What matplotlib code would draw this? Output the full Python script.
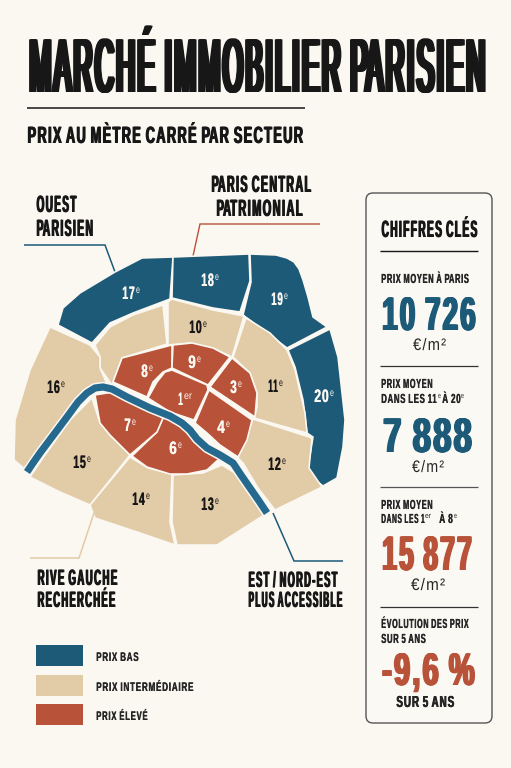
import numpy as np
import matplotlib
matplotlib.use("Agg")
import matplotlib.pyplot as plt
from matplotlib.patches import Polygon, Rectangle, FancyBboxPatch
from matplotlib.path import Path
from matplotlib.patheffects import AbstractPathEffect
from matplotlib.text import Text
from matplotlib.transforms import Bbox, IdentityTransform

# ---------- data ----------
TITLE = "MARCHÉ IMMOBILIER PARISIEN"
SUBTITLE = "PRIX AU MÈTRE CARRÉ PAR SECTEUR"
LEGEND_LABELS = ["PRIX BAS", "PRIX INTERMÉDIAIRE", "PRIX ÉLEVÉ"]
PRICE_PARIS = "10 726"
PRICE_EAST = "7 888"
PRICE_CENTRE = "15 877"
PRICE_CHANGE = "-9,6 %"
UNIT = "€/m²"

BG, BLUE, TAN, RED = "#fbf8f2", "#1d5a78", "#e2cba7", "#b85239"
RIVER = "#256a8e"
INK = "#171717"
SMALL = "#252525"
PALETTE = {"bas": BLUE, "mid": TAN, "haut": RED}

LOW = ["17", "18", "19", "20"]
MID = ["10", "11", "12", "13", "14", "15", "16", "ouest"]
HIGH = ["1", "3", "4", "6", "7", "8", "9"]

# map outline of each arrondissement
SHAPES = {
    "17": [(58,325),(63,308),(80,293),(115,272),(142,258),(173,257),(170,299),(133,313),(110,323),(92,343)],
    "18": [(173,257),(249,254),(250,281),(240,312),(213,308),(172,298)],
    "19": [(250,254),(276,255),(287,258),(294,262),(299,269),(303,280),(308,297),(313,317),(327,327),(287,348),(270,335),(243,315),(251,282)],
    "20": [(330,329),(338,357),(345,420),(343,447),(337,478),(323,486),(309,475),(308,468),(313,437),(307,433),(303,400),(295,367),(288,350)],
    "10": [(168,302),(172,299),(213,310),(244,316),(232,357),(213,348),(190,343),(168,345)],
    "ouest": [(95,345),(110,327),(133,315),(163,305),(167,344),(122,358),(112,385),(100,368),(100,357)],
    "11": [(246,318),(270,333),(287,350),(295,370),(305,413),(307,433),(254,418),(257,407),(257,393),(250,373),(233,357)],
    "12": [(238,458),(253,419),(312,438),(309,468),(322,487),(275,510),(258,488),(243,463)],
    "13": [(173,475),(203,473),(222,465),(238,475),(264,515),(217,545),(177,545),(172,522)],
    "14": [(130,457),(148,468),(172,474),(170,522),(175,545),(140,533),(95,518),(90,505)],
    "15": [(30,477),(45,455),(70,420),(92,398),(100,423),(110,435),(130,455),(90,505),(60,492)],
    "16": [(50,327),(90,345),(100,357),(100,368),(107,384),(90,388),(67,413),(40,448),(26,470),(14,460),(15,420),(30,370)],
    "8": [(122,358),(172,345),(172,368),(163,372),(153,382),(147,397),(113,382)],
    "9": [(173,345),(192,343),(213,348),(230,357),(208,385),(172,368)],
    "3": [(232,358),(250,373),(257,393),(255,417),(210,387)],
    "1": [(172,370),(207,385),(208,390),(194,420),(170,412),(148,398),(157,382),(165,372)],
    "4": [(209,390),(252,420),(247,440),(238,457),(220,445),(207,433),(195,423)],
    "6": [(170,418),(187,428),(203,448),(220,458),(207,470),(187,474),(170,474),(147,467),(132,456),(157,432),(163,418)],
    "7": [(95,395),(113,392),(163,418),(157,432),(130,455),(110,435),(100,423)],
}
SEINE = [(27,472),(33,463),(40,453),(52,437),(67,417),(78,402),(87,393),(95,388),(103,387),(112,389),
         (127,397),(150,408),(170,416),(182,423),(190,430),(197,439),(207,448),(220,455),(233,463),
         (241,475),(250,488),(259,501),(267,513)]

# number label: text, left, baseline, width, colour
DISTRICT_LABELS = [
    ("17",122,299,13,BG),("18",201,286,13,BG),("19",271,305,12,BG),("20",314,402,15,BG),
    ("10",189,333,13,INK),("11",268,392,10,INK),("12",268,470,13,INK),("13",201,510,13,INK),
    ("14",132,505,13,INK),("15",73,468,13,INK),("16",47,393,13,INK),
    ("8",141,377,7,BG),("9",188,368,8,BG),("3",230,393,7,BG),("4",217,433,8,BG),
    ("6",169,454,8,BG),("7",124,431,7,BG),
]

# ---------- condensed text helpers ----------
CAP = 0.72
BASE_FONT = "Liberation Sans"


class Squeeze(AbstractPathEffect):
    """Draw text glyphs condensed about x0, with tracking and extra stem weight."""

    def __init__(self, x0, sx, bold, track):
        self.x0, self.sx, self.bold, self.track = x0, sx, bold, track

    def draw_path(self, renderer, gc, tpath, affine, rgbFace=None):
        p = affine.transform_path(tpath)
        v, c = p.vertices.copy(), p.codes
        starts = np.flatnonzero(c == Path.MOVETO)
        ends = np.append(starts[1:], len(c))
        spans = []
        for s, e in zip(starts, ends):
            xs = v[s:e][c[s:e] != Path.CLOSEPOLY, 0]
            spans.append((xs.min(), xs.max(), s, e))
        spans.sort()
        idx, right = -1, -np.inf
        for xmin, xmax, s, e in spans:
            if xmin > right:
                idx += 1
            right = max(right, xmax)
            v[s:e, 0] = self.x0 + (v[s:e, 0] - self.x0) * self.sx + idx * self.track
        n = int(np.ceil(self.bold / 0.7))
        offs = np.linspace(0, self.bold, n + 1) if n else [0.0]
        for dx in offs:
            w = v.copy()
            w[:, 0] += dx
            renderer.draw_path(gc, Path(w, c), IdentityTransform(), rgbFace)


class CondensedText(Text):
    """Text whose layout reports the condensed width it is really drawn at,
    and no descender room, as these capitals and figures have none."""
    drawn_width = None

    def _get_layout(self, renderer):
        bbox, info, descent = super()._get_layout(renderer)
        if self.drawn_width is not None:
            bbox = Bbox.from_bounds(bbox.x0, bbox.y0 + descent, self.drawn_width, bbox.height - descent)
        return bbox, info, descent


fig = plt.figure(figsize=(5.11, 7.68), dpi=100, facecolor=BG)
ax = fig.add_axes([0, 0, 1, 1])
ax.set_xlim(0, 511)
ax.set_ylim(768, 0)
ax.axis("off")
rend = fig.canvas.get_renderer()


def label(x, y, s, cap, width, color=INK, bold=0.0, weight="bold", track=0.0):
    size = cap / CAP * 72 / 100
    t = CondensedText(x, y, s, color=color, fontsize=size, fontweight=weight,
                      family=BASE_FONT, ha="left", va="baseline", zorder=10)
    ax.add_artist(t)
    x0 = ax.transData.transform((x, y))[0]
    natural = t.get_window_extent(rend).width
    gaps = max(len(s.replace(" ", "")) - 1, 0)
    sx = max(width - bold - track * gaps, 1) / natural
    t.drawn_width = width
    t.set_path_effects([Squeeze(x0, sx, bold, track)])
    return t


def line(xs, ys, color, lw=1.0, z=1):
    ax.plot(xs, ys, color=color, lw=lw, solid_capstyle="butt", solid_joinstyle="miter", zorder=z)


# ---------- header ----------
label(27, 92, TITLE, 55, 463, bold=5.2, track=2.6, weight="normal")
line([27, 305], [108, 108], INK, 1.1)
label(27, 143, SUBTITLE, 17, 278, bold=1.2, track=1.4)

# ---------- map ----------
for key, pts in SHAPES.items():
    tier = "bas" if key in LOW else "mid" if key in MID else "haut"
    ax.add_patch(Polygon(pts, closed=True, facecolor=PALETTE[tier], edgecolor=BG, lw=1.15,
                         joinstyle="round", zorder=3))
sx_, sy_ = zip(*SEINE)
ax.plot(sx_, sy_, color=BG, lw=7.4, solid_capstyle="butt", solid_joinstyle="round", zorder=4)
ax.plot(sx_, sy_, color=RIVER, lw=5.2, solid_capstyle="butt", solid_joinstyle="round", zorder=5)

for s, x, y, w, c in DISTRICT_LABELS:
    label(x, y, s, 13, w, color=c, bold=0.5, track=0.8)
    label(x + w + 1, y - 6, "e", 7.5, 4, color=c, weight="normal")
label(178, 405, "1", 13, 5, color=BG, bold=0.5)
label(184, 399, "er", 7.5, 8, color=BG, weight="normal")

# ---------- leaders and callouts ----------
line([24, 105, 115], [245, 245, 272], BLUE, 1.1)
line([320, 200, 193], [224, 224, 256], RED, 1.0)
line([30, 79, 95], [558, 558, 510], TAN, 1.1, z=4)
line([273, 294, 343], [513, 561, 561], BLUE, 1.1)

for x, y, s, cap, w in [(36, 212, "OUEST", 17, 41), (36, 236, "PARISIEN", 17, 59),
                        (211, 192, "PARIS CENTRAL", 17, 102), (216, 216, "PATRIMONIAL", 17, 90),
                        (37, 585, "RIVE GAUCHE", 16, 81), (37, 607, "RECHERCHÉE", 16, 79),
                        (248, 587, "EST / NORD-EST", 16, 90), (248, 607, "PLUS ACCESSIBLE", 16, 95)]:
    label(x, y, s, cap, w, bold=1.2, track=1.4)

# ---------- legend ----------
for col, y0 in zip([BLUE, TAN, RED], [645, 675, 704]):
    ax.add_patch(Rectangle((36, y0), 47, 21, facecolor=col, edgecolor="none", zorder=3))
for lab, base, w in zip(LEGEND_LABELS, [661, 691, 720], [43, 98, 52]):
    label(96, base, lab, 9, w, color=SMALL, bold=0.5, track=0.8)

# ---------- key figures panel ----------
ax.add_patch(FancyBboxPatch((366, 193), 126, 530, boxstyle="round,pad=0,rounding_size=7",
                            facecolor="#fbf9f4", edgecolor="#555555", lw=1.0, zorder=2))
label(381, 237, "CHIFFRES CLÉS", 17, 97, bold=1.2, track=1.4)
for y, c, lw in [(251, INK, 1.0), (366, "#333333", 0.9), (487, "#555555", 0.9), (607, "#333333", 0.9)]:
    line([380, 478], [y, y], c, lw, z=3)


def small(x, y, s, w):
    label(x, y, s, 9.5, w, color=SMALL, bold=0.5, track=0.7)


def sup(x, y, s, w):
    label(x, y - 5, s, 5.5, w, color=SMALL, weight="normal")


def big(x, y, s, cap, w, col):
    label(x, y, s, cap, w, color=col, bold=2.4, track=2.2)


def unit(x, y, w):
    label(x, y, UNIT, 12, w, color=SMALL, weight="normal", track=1.2)


small(381, 283, "PRIX MOYEN À PARIS", 89)
big(381, 330, PRICE_PARIS, 34, 96, BLUE)
unit(413, 350, 33)

small(381, 388, "PRIX MOYEN", 52)
small(381, 403, "DANS LES 11", 56)
sup(438, 403, "e", 3)
small(442, 403, "À 20", 19)
sup(461, 403, "e", 3)
big(382, 452, PRICE_EAST, 35, 91, BLUE)
unit(412, 472, 32)

small(381, 509, "PRIX MOYEN", 52)
small(381, 523, "DANS LES 1", 44)
sup(425, 523, "er", 6)
small(439, 523, "À 8", 14)
sup(454, 523, "e", 3)
big(381, 570, PRICE_CENTRE, 35, 92, RED)
unit(411, 590, 34)

small(381, 628, "ÉVOLUTION DES PRIX", 88)
small(381, 643, "SUR 5 ANS", 45)
big(381, 685, PRICE_CHANGE, 33, 95, RED)
label(396, 707, "SUR 5 ANS", 11.5, 59, color=SMALL, bold=0.8, track=1.0)

fig.savefig("out.png", dpi=100, facecolor=BG)
